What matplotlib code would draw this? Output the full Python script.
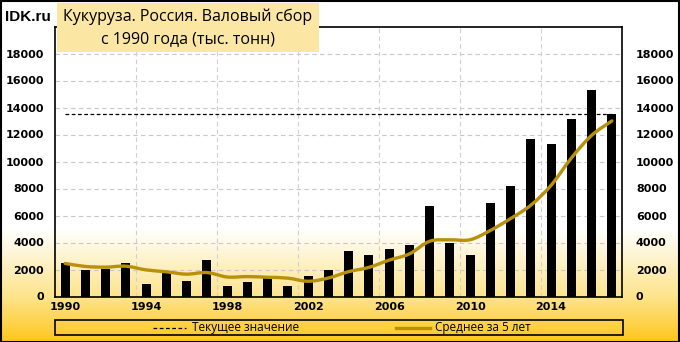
import numpy as np
import matplotlib.pyplot as plt
from matplotlib.patches import Rectangle
from matplotlib.path import Path
from matplotlib.patches import PathPatch
from matplotlib.lines import Line2D

years = list(range(1990, 2018))
harvest = [2450, 2000, 2070, 2450, 890, 1730, 1130, 2670, 800, 1040,
           1490, 810, 1500, 2000, 3400, 3060, 3510, 3800, 6680, 3960,
           3080, 6960, 8200, 11630, 11330, 13180, 15330, 13550]
avg5 = [2450, 2225, 2175, 2245, 1970, 1830, 1655, 1775, 1445, 1475,
        1425, 1360, 1130, 1370, 1840, 2155, 2695, 3155, 4090, 4200,
        4205, 4895, 5775, 6765, 8240, 10260, 11935, 13005]
current = 13550
yticks = list(range(0, 20000, 2000))
xlabels = [1990, 1994, 1998, 2002, 2006, 2010, 2014]

W, H = 680, 342
fig = plt.figure(figsize=(6.8, 3.42), dpi=100)

# gradient background (white -> yellow)
bg = fig.add_axes([0, 0, 1, 1], zorder=-5)
rows = np.arange(H)
stops_y = [0, 228, 296, 342]
stops_c = np.array([[255, 255, 255], [255, 255, 255], [253, 228, 140], [255, 198, 25]]) / 255
grad = np.stack([np.interp(rows, stops_y, stops_c[:, k]) for k in range(3)], axis=-1)
bg.imshow(grad[:, None, :], aspect='auto', extent=[0, 1, 0, 1])
bg.axis('off')

ax = fig.add_axes([55 / W, 1 - 296.5 / H, 567 / W, 270 / H])
ax.patch.set_alpha(0)
x = np.arange(len(years))
ax.bar(x, harvest, width=0.45, color='black', zorder=3)

# smoothed 5-year average (bezier curve like Excel's smoothed line)
pts = np.column_stack([x, avg5]).astype(float)
verts = [tuple(pts[0])]
codes = [Path.MOVETO]
for i in range(len(pts) - 1):
    p0 = pts[max(i - 1, 0)]
    p1 = pts[i]
    p2 = pts[i + 1]
    p3 = pts[min(i + 2, len(pts) - 1)]
    c1 = p1 + (p2 - p0) / 6
    c2 = p2 - (p3 - p1) / 6
    verts += [tuple(c1), tuple(c2), tuple(p2)]
    codes += [Path.CURVE4] * 3
ax.add_patch(PathPatch(Path(verts, codes), facecolor='none', edgecolor='#B8900A',
                       lw=2.4, zorder=4, capstyle='round'))

ax.plot([0, len(years) - 1], [current, current], color='black', lw=0.9,
        ls=(0, (3, 2)), zorder=5)

ax.set_xlim(-0.5, len(years) - 0.5)
ax.set_ylim(0, 20000)
ax.set_yticks(yticks)
ax.set_yticklabels([str(v) for v in yticks], fontsize=8, fontweight='bold')
ax.tick_params(axis='y', length=0, pad=8)
ax.set_xticks([years.index(y) for y in xlabels])
ax.set_xticklabels([str(y) for y in xlabels], fontsize=8, fontweight='bold')
ax.tick_params(axis='x', length=0, pad=4)

for yv in yticks[1:]:
    ax.axhline(yv, color='#C8C8C8', lw=0.8, ls=(0, (4, 3)), zorder=1)
for xv in [3.5, 7.5, 11.5, 15.5, 19.5, 23.5]:
    ax.axvline(xv, color='#D0D0D0', lw=0.8, ls=(0, (4, 3)), zorder=1)
for s in ax.spines.values():
    s.set_color('black')
    s.set_linewidth(1.2)

# right-side labels
ax2 = ax.twinx()
ax2.set_ylim(0, 20000)
ax2.set_yticks(yticks)
ax2.set_yticklabels([str(v) for v in yticks], fontsize=8, fontweight='bold')
ax2.tick_params(axis='y', length=0, pad=10)
for s in ax2.spines.values():
    s.set_visible(False)

# title box
fig.patches.append(Rectangle((57 / W, 1 - 52 / H), 262 / W, 49 / H,
                             transform=fig.transFigure, facecolor='#FCE6A4',
                             edgecolor='none', zorder=2))
fig.text(188 / W, 1 - 17 / H, 'Кукуруза. Россия. Валовый сбор', ha='center',
         va='center', fontsize=11.5, family='Open Sans', zorder=3)
fig.text(188 / W, 1 - 39 / H, 'с 1990 года (тыс. тонн)', ha='center',
         va='center', fontsize=11.5, family='Open Sans', zorder=3)
fig.text(5 / W, 1 - 17 / H, 'IDK.ru', ha='left', va='center', fontsize=11,
         fontweight='bold', family='Liberation Sans', zorder=3)

# legend box
fig.patches.append(Rectangle((55 / W, 1 - 335 / H), 568 / W, 15 / H,
                             transform=fig.transFigure, facecolor='none',
                             edgecolor='black', lw=1.2, zorder=2))
ly = 1 - 327.5 / H
fig.lines.append(Line2D([153 / W, 186 / W], [ly, ly], transform=fig.transFigure,
                        color='black', lw=0.9, ls=(0, (3, 2))))
fig.text(192 / W, ly, 'Текущее значение', ha='left', va='center', fontsize=8.5,
         family='Open Sans')
fig.lines.append(Line2D([396 / W, 430 / W], [ly, ly], transform=fig.transFigure,
                        color='#B8900A', lw=2.4))
fig.text(435 / W, ly, 'Среднее за 5 лет', ha='left', va='center', fontsize=8.5,
         family='Open Sans')

# outer border
fig.patches.append(Rectangle((0.5 / W, 0.5 / H), 1 - 1.5 / W, 1 - 1.5 / H,
                             transform=fig.transFigure, facecolor='none',
                             edgecolor='black', lw=1.5, zorder=2))

fig.savefig('out.png', dpi=100)
